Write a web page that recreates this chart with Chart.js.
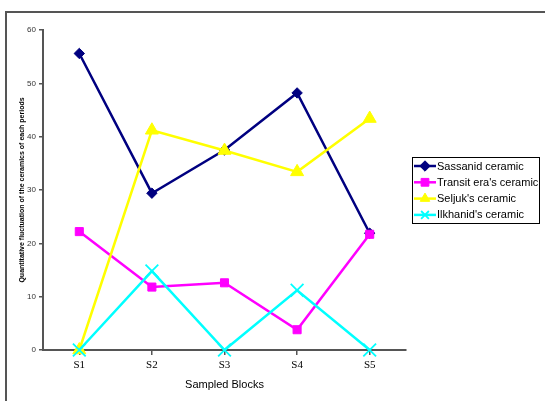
<!DOCTYPE html>
<html>
<head>
<meta charset="utf-8">
<script src="https://cdn.jsdelivr.net/npm/chart.js@4/dist/chart.umd.min.js"></script>
<style>
  html, body { margin: 0; padding: 0; background: #fff; }
  #wrap { width: 545px; height: 401px; }
</style>
</head>
<body>
<div id="wrap"><canvas id="ceramicChart" width="545" height="401"></canvas></div>
<script>
// Ceramic counts per sampled block
const blocks = ['S1', 'S2', 'S3', 'S4', 'S5'];
const sassanid = [55.6, 29.4, 37.5, 48.2, 21.9];
const transit = [22.2, 11.8, 12.6, 3.8, 21.7];
const seljuk = [0, 41.2, 37.4, 33.4, 43.4];
const ilkhanid = [0, 14.8, 0, 11.2, 0];
const yTicks = [0, 10, 20, 30, 40, 50, 60];

// later series are painted on top, like in the original
function series(label, data, color, style, radius, order) {
    return {
        label: label,
        data: data,
        order: order,
        borderColor: color,
        backgroundColor: color,
        borderWidth: 2.5,
        pointStyle: style,
        pointRadius: radius,
        pointHoverRadius: radius,
        pointBorderWidth: style === 'crossRot' ? 1.8 : 1,
        tension: 0,
        clip: false
    };
}

// Outer frame lines (top and left only)
const framePlugin = {
    id: 'frame',
    beforeDraw(chart) {
        const ctx = chart.ctx;
        ctx.save();
        ctx.fillStyle = '#fff';
        ctx.fillRect(0, 0, chart.width, chart.height);
        ctx.strokeStyle = '#555';
        ctx.lineWidth = 2;
        ctx.beginPath();
        ctx.moveTo(6, 401);
        ctx.lineTo(6, 12);
        ctx.lineTo(545, 12);
        ctx.stroke();
        ctx.restore();
    }
};

// Boxed legend at the right side
const legendBox = {
    id: 'legendBox',
    afterDraw(chart) {
        const ctx = chart.ctx;
        const x0 = 412, y0 = 157, w = 127, h = 66;
        ctx.save();
        ctx.strokeStyle = '#000';
        ctx.lineWidth = 1;
        ctx.strokeRect(x0 + 0.5, y0 + 0.5, w, h);
        ctx.font = '11px "Liberation Sans", Arial, sans-serif';
        ctx.textBaseline = 'middle';
        chart.data.datasets.forEach((ds, i) => {
            const y = y0 + 9 + i * 16.3;
            ctx.strokeStyle = ds.borderColor;
            ctx.lineWidth = 2.5;
            ctx.beginPath();
            ctx.moveTo(414, y);
            ctx.lineTo(436, y);
            ctx.stroke();
            ctx.fillStyle = ds.backgroundColor;
            ctx.lineWidth = ds.pointBorderWidth;
            Chart.helpers.drawPoint(ctx, {
                pointStyle: ds.pointStyle,
                radius: Math.min(ds.pointRadius, 5.5),
                borderWidth: ds.pointBorderWidth,
                rotation: 0
            }, 425, y);
            ctx.fillStyle = '#000';
            ctx.fillText(ds.label, 437, y + 0.5);
        });
        ctx.restore();
    }
};

new Chart(document.getElementById('ceramicChart'), {
    type: 'line',
    data: {
        labels: blocks,
        datasets: [
            series('Sassanid ceramic', sassanid, '#000080', 'rectRot', 5.2, 4),
            series("Transit era's ceramic", transit, '#FF00FF', 'rect', 5.7, 3),
            series("Seljuk's ceramic", seljuk, '#FFFF00', 'triangle', 7.5, 2),
            series("Ilkhanid's ceramic", ilkhanid, '#00FFFF', 'crossRot', 9, 1)
        ]
    },
    options: {
        responsive: false,
        animation: false,
        devicePixelRatio: 1,
        layout: { padding: { left: 0, right: 139, top: 30, bottom: 0 } },
        plugins: {
            legend: { display: false },
            tooltip: { enabled: false }
        },
        scales: {
            x: {
                offset: true,
                afterFit(scale) { scale.height = 51; },
                grid: {
                    drawOnChartArea: false,
                    drawTicks: true,
                    tickLength: 5,
                    color: '#555',
                    lineWidth: 1.5
                },
                border: { color: '#555', width: 2 },
                ticks: {
                    color: '#000',
                    padding: 4,
                    font: { family: '"Liberation Serif", "Times New Roman", serif', size: 11 }
                },
                title: {
                    display: true,
                    text: 'Sampled Blocks',
                    color: '#000',
                    padding: { top: 0, bottom: 9 },
                    font: { family: '"Liberation Sans", Arial, sans-serif', size: 11 }
                }
            },
            y: {
                min: 0,
                max: 60,
                afterFit(scale) { scale.width = 43; },
                afterBuildTicks(scale) { scale.ticks = yTicks.map(v => ({ value: v })); },
                grid: {
                    drawOnChartArea: false,
                    drawTicks: true,
                    tickLength: 4,
                    color: '#555',
                    lineWidth: 1.5
                },
                border: { color: '#555', width: 2 },
                ticks: {
                    color: '#333',
                    padding: 3,
                    font: { family: '"Liberation Sans", Arial, sans-serif', size: 8 }
                },
                title: {
                    display: true,
                    text: 'Quantitative fluctuation of the ceramics of each periods',
                    color: '#000',
                    padding: { top: 18, bottom: 0 },
                    font: { family: '"Liberation Sans", Arial, sans-serif', size: 7, weight: 'bold' }
                }
            }
        }
    },
    plugins: [framePlugin, legendBox]
});
</script>
</body>
</html>
